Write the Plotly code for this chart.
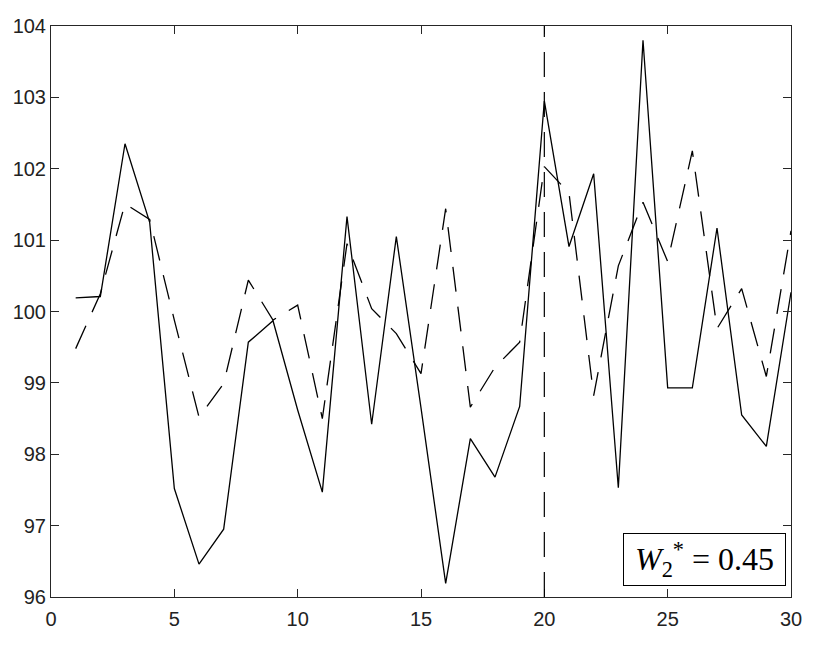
import plotly.graph_objects as go

x_vals = list(range(1, 31))
solid_vals = [100.19, 100.21, 102.35, 101.25, 97.52, 96.46, 96.95, 99.57, 99.87, 98.62,
              97.47, 101.33, 98.42, 101.05, 98.65, 96.19, 98.22, 97.68, 98.67, 102.95,
              100.91, 101.93, 97.53, 103.80, 98.93, 98.93, 101.17, 98.55, 98.11, 100.27]
dashed_vals = [99.48, 100.25, 101.51, 101.29, 99.88, 98.52, 98.99, 100.44, 99.88, 100.09,
               98.50, 100.95, 100.04, 99.69, 99.13, 101.44, 98.66, 99.22, 99.57, 102.03,
               101.66, 98.82, 100.64, 101.53, 100.70, 102.25, 99.76, 100.32, 99.09, 101.13]
vline_x = 20
x_ticks = [0, 5, 10, 15, 20, 25, 30]
y_ticks = [96, 97, 98, 99, 100, 101, 102, 103, 104]
label_text = "\u00a0<i>W</i><sub>2</sub><sup>*</sup> = 0.45\u00a0"

DASH = "25px,15px"
AX = "#262626"

fig = go.Figure()
fig.add_trace(go.Scatter(x=x_vals, y=solid_vals, mode="lines",
                         line=dict(color="black", width=1.3), showlegend=False))
fig.add_trace(go.Scatter(x=x_vals, y=dashed_vals, mode="lines",
                         line=dict(color="black", width=1.3, dash=DASH), showlegend=False))

fig.add_shape(type="line", xref="x", yref="paper", x0=vline_x, x1=vline_x, y0=0, y1=1,
              line=dict(color="black", width=1.2, dash=DASH))

fig.add_annotation(text=label_text, xref="paper", yref="paper", x=0.9932, y=0.0187,
                   xanchor="right", yanchor="bottom", showarrow=False,
                   font=dict(family="Liberation Serif", size=32, color="black"),
                   bordercolor="black", borderwidth=1, borderpad=3, bgcolor="white")

axis_common = dict(showline=True, linecolor=AX, linewidth=1, mirror="ticks",
                   ticks="inside", ticklen=8, tickcolor=AX, tickwidth=1,
                   showgrid=False, zeroline=False, automargin=False,
                   tickfont=dict(family="Liberation Sans", size=20, color="#222222"))

fig.update_xaxes(range=[0, 30], tickvals=x_ticks, ticklabelstandoff=4, **axis_common)
fig.update_yaxes(range=[96, 104], tickvals=y_ticks, **axis_common)

fig.update_layout(width=822, height=640, margin=dict(l=43, r=39, t=18, b=51),
                  plot_bgcolor="white", paper_bgcolor="white")

fig.write_html("out.html")
